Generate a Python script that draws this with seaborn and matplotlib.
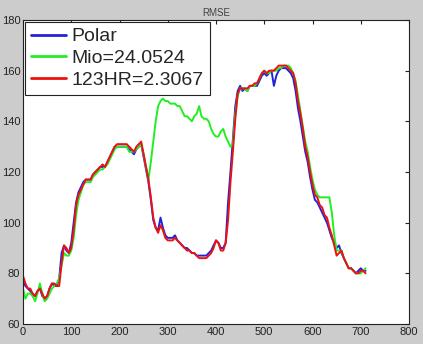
import numpy as np
import pandas as pd
import matplotlib
matplotlib.use("Agg")
import matplotlib.pyplot as plt
import seaborn as sns

x = list(range(0, 715, 5))

polar = [77, 75, 74, 73, 72, 71, 73, 74, 71, 70, 71, 74, 76, 75, 75, 78, 88, 91, 89, 88,
         92, 100, 108, 112, 114, 116, 117, 117, 117, 119, 120, 121, 122, 122, 122, 124, 126, 128, 130, 130,
         130, 130, 130, 130, 129, 128, 127, 129, 130, 131, 126, 121, 116, 109, 101, 98, 97, 102, 98, 95,
         94, 94, 94, 95, 93, 92, 91, 90, 90, 89, 88, 88, 87, 87, 87, 87, 87, 88, 89, 91,
         93, 92, 90, 90, 92, 108, 120, 133, 146, 152, 154, 152, 153, 152, 154, 154, 154, 154, 156, 158,
         159, 158, 159, 160, 154, 158, 160, 161, 161, 161, 160, 159, 157, 152, 145, 140, 134, 128, 124, 118,
         113, 109, 108, 106, 104, 102, 100, 97, 94, 92, 90, 91, 88, 86, 84, 82, 82, 81, 80, 81,
         82, 81, 81]

mio = [74, 70, 72, 72, 71, 69, 72, 76, 72, 69, 70, 72, 74, 75, 76, 78, 83, 88, 87, 87,
       89, 94, 103, 109, 112, 115, 116, 116, 116, 118, 119, 120, 121, 121, 122, 123, 125, 127, 129, 130,
       130, 130, 130, 130, 128, 128, 128, 129, 130, 131, 127, 122, 117, 124, 132, 140, 146, 148, 149, 148,
       148, 147, 147, 147, 146, 146, 144, 142, 142, 141, 140, 142, 143, 146, 142, 141, 141, 140, 137, 135,
       134, 134, 136, 137, 134, 132, 130, 131, 143, 150, 153, 153, 153, 152, 154, 154, 154, 155, 157, 159,
       160, 159, 159, 160, 160, 160, 161, 161, 162, 162, 162, 161, 159, 156, 150, 144, 138, 132, 128, 122,
       117, 113, 111, 110, 110, 110, 110, 110, 104, 95, 89, 89, 89, 86, 84, 82, 82, 81, 80, 80,
       80, 81, 82]

hr123 = [79, 76, 74, 74, 72, 71, 73, 74, 72, 70, 71, 74, 76, 76, 75, 75, 84, 91, 90, 88,
         90, 97, 107, 111, 113, 115, 117, 117, 117, 119, 120, 121, 122, 123, 122, 124, 126, 128, 130, 131,
         131, 131, 131, 131, 130, 129, 128, 130, 131, 132, 127, 122, 117, 110, 102, 98, 96, 99, 97, 94,
         93, 93, 93, 94, 93, 92, 91, 90, 89, 89, 88, 88, 87, 86, 86, 86, 86, 87, 88, 90,
         93, 92, 89, 89, 92, 101, 116, 128, 141, 151, 153, 153, 153, 153, 154, 154, 155, 155, 157, 159,
         160, 159, 160, 160, 160, 161, 162, 162, 162, 162, 161, 160, 159, 155, 148, 143, 137, 130, 126, 120,
         115, 111, 110, 107, 106, 103, 102, 98, 95, 91, 87, 88, 89, 86, 84, 82, 82, 81, 80, 80,
         81, 81, 80]

names = ["Polar", "Mio=24.0524", "123HR=2.3067"]
colors = ["#2222dd", "#22ee22", "#ee1111"]

df = pd.DataFrame({
    "x": x * 3,
    "y": polar + mio + hr123,
    "series": [names[0]] * len(x) + [names[1]] * len(x) + [names[2]] * len(x),
})

sns.set_style("white")
plt.rcParams["font.family"] = ["Liberation Sans", "DejaVu Sans"]

fig = plt.figure(figsize=(4.23, 3.44), dpi=100, facecolor="#cccccc")
ax = fig.add_axes([23 / 423, 20 / 344, 386 / 423, 304 / 344])
ax.set_facecolor("white")

sns.lineplot(data=df, x="x", y="y", hue="series", hue_order=names,
             palette=colors, linewidth=1.4, ax=ax, estimator=None, sort=True)

ax.set_xlim(0, 800)
ax.set_ylim(60, 180)
ax.set_xticks(range(0, 801, 100))
ax.set_yticks(range(60, 181, 20))
ax.set_xlabel("")
ax.set_ylabel("")
ax.tick_params(direction="in", length=3, width=0.8, labelsize=8, colors="#222222",
               top=True, right=True, pad=2)
for s in ax.spines.values():
    s.set_color("#222222")
    s.set_linewidth(0.8)
ax.set_title("RMSE", fontsize=7, color="#444444", pad=3)

leg = ax.legend(loc="upper left", fontsize=14, handlelength=1.8, handletextpad=0.3,
                labelspacing=0.22, borderpad=0.3, borderaxespad=0.1,
                frameon=True, fancybox=False, framealpha=1, edgecolor="#222222")
leg.get_frame().set_linewidth(0.8)
for line in leg.get_lines():
    line.set_linewidth(2)

fig.savefig("out.png", dpi=100, facecolor=fig.get_facecolor())
